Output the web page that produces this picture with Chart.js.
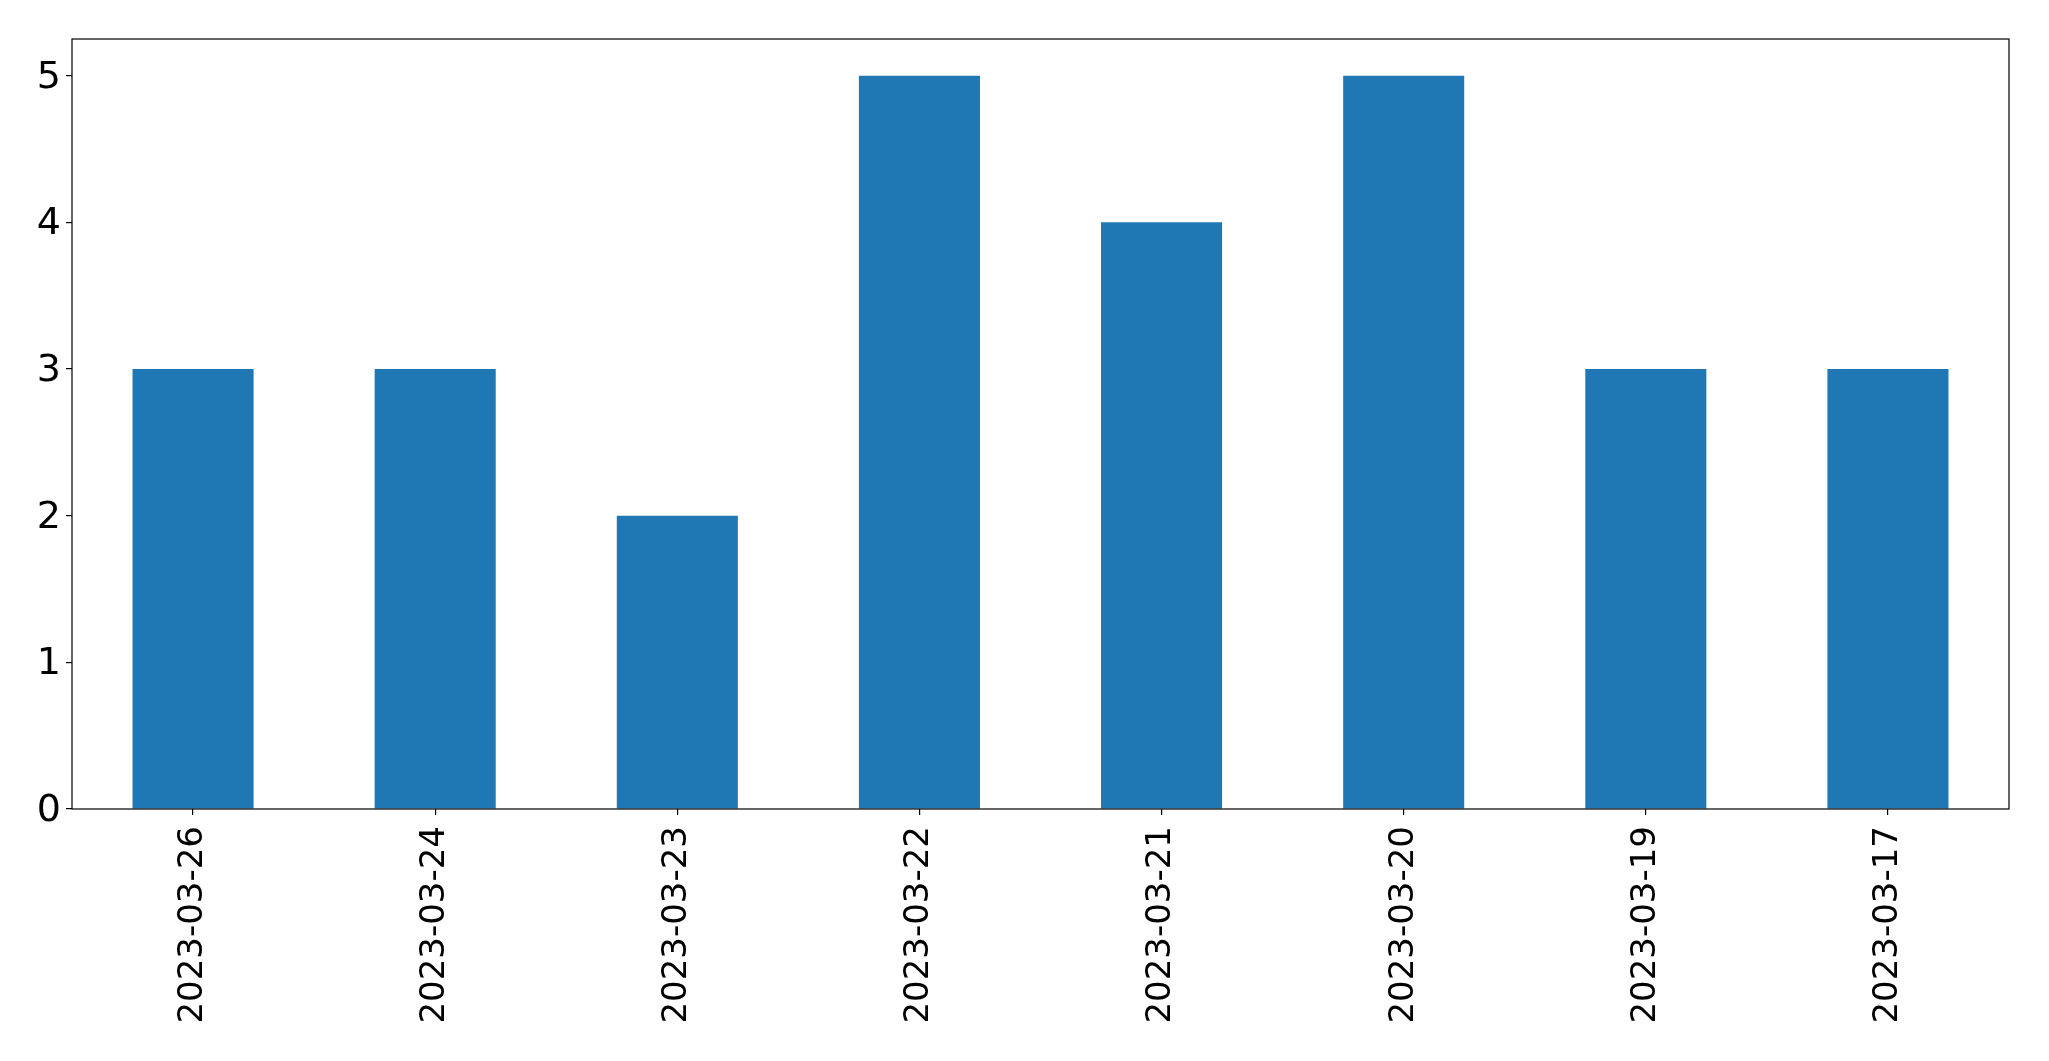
<!DOCTYPE html>
<html>
<head>
<meta charset="utf-8">
<script src="https://cdn.jsdelivr.net/npm/chart.js@4/dist/chart.umd.min.js"></script>
<style>
html,body{margin:0;padding:0;background:#fff;}
canvas{display:block;}
</style>
</head>
<body>
<canvas id="c" width="2049" height="1061"></canvas>
<script>
const categories = ["2023-03-26","2023-03-24","2023-03-23","2023-03-22","2023-03-21","2023-03-20","2023-03-19","2023-03-17"];
const values = [3, 3, 2, 5, 4, 5, 3, 3];
const yTicks = [0, 1, 2, 3, 4, 5];

const frame = {
  id: 'frame',
  afterDraw(chart) {
    const a = chart.chartArea, ctx = chart.ctx;
    ctx.save();
    ctx.strokeStyle = '#000';
    ctx.lineWidth = 1.2;
    ctx.strokeRect(a.left, a.top, a.right - a.left, a.bottom - a.top);
    ctx.restore();
  }
};

new Chart(document.getElementById('c'), {
  type: 'bar',
  data: {
    labels: categories,
    datasets: [{ data: values, backgroundColor: '#1f77b4', borderWidth: 0, barPercentage: 0.5, categoryPercentage: 1.0 }]
  },
  options: {
    responsive: false,
    animation: false,
    devicePixelRatio: 1,
    layout: { padding: { left: 0, top: 39, right: 40, bottom: 0 } },
    plugins: { legend: { display: false }, tooltip: { enabled: false } },
    scales: {
      x: {
        offset: true,
        grid: { display: true, drawOnChartArea: false, tickLength: 6, color: '#000', lineWidth: 1.2, offset: false },
        border: { display: false },
        ticks: { color: '#000', font: { family: 'DejaVu Sans', size: 34 }, minRotation: 90, maxRotation: 90, padding: 11, autoSkip: false },
        afterFit(s) { s.height = 1061 - 809; }
      },
      y: {
        min: 0, max: 5.25,
        grid: { display: true, drawOnChartArea: false, tickLength: 6, color: '#000', lineWidth: 1.2 },
        border: { display: false },
        ticks: { color: '#000', font: { family: 'DejaVu Sans', size: 38 }, stepSize: 1, padding: 5, labelOffset: 2 },
        afterBuildTicks(s) { s.ticks = yTicks.map(v => ({ value: v })); },
        afterFit(s) { s.width = 72; }
      }
    }
  },
  plugins: [frame]
});
</script>
</body>
</html>
